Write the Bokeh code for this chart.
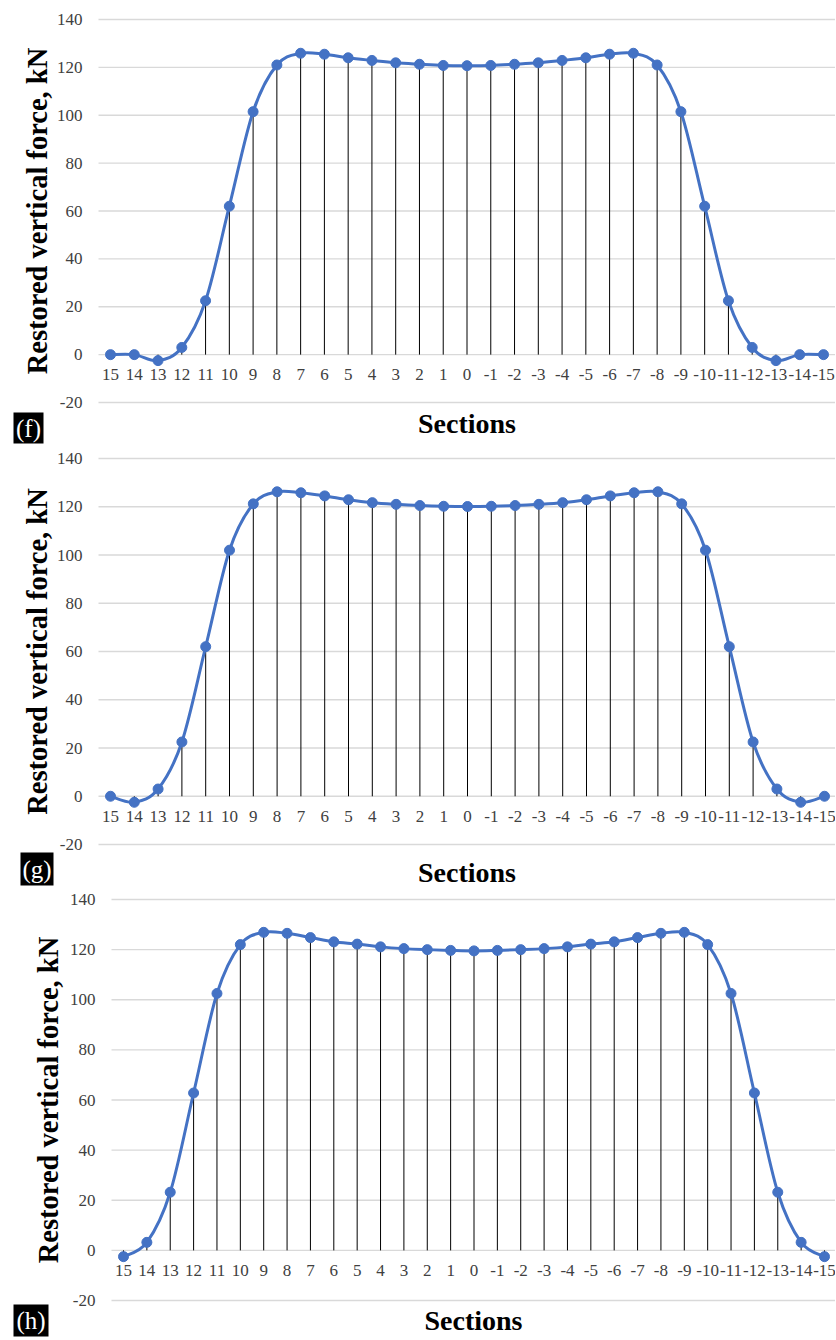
import math
from bokeh.plotting import figure
from bokeh.layouts import column
from bokeh.models import ColumnDataSource
from bokeh.core.properties import value
from bokeh.embed import file_html
from bokeh.resources import INLINE

# ---------------- data ----------------
sections = ["15", "14", "13", "12", "11", "10", "9", "8", "7", "6", "5", "4", "3", "2", "1", "0",
            "-1", "-2", "-3", "-4", "-5", "-6", "-7", "-8", "-9", "-10", "-11", "-12", "-13", "-14", "-15"]

force_f = [0, 0, -2.5, 3, 22.5, 62, 101.5, 121, 125.9, 125.5, 124.0, 122.9, 121.9, 121.3, 120.8, 120.7,
           120.8, 121.3, 121.9, 122.9, 124.0, 125.5, 125.9, 121, 101.5, 62, 22.5, 3, -2.5, 0, 0]

force_g = [0, -2.5, 3, 22.5, 62, 102, 121.2, 126.2, 125.8, 124.5, 122.9, 121.7, 121.0, 120.5, 120.2, 120.1,
           120.2, 120.5, 121.0, 121.7, 122.9, 124.5, 125.8, 126.2, 121.2, 102, 62, 22.5, 3, -2.5, 0]

force_h = [-2.5, 3.2, 23.2, 62.8, 102.5, 122, 126.9, 126.5, 124.8, 123.1, 122.2, 121.1, 120.4, 120.0, 119.7, 119.5,
           119.7, 120.0, 120.4, 121.1, 122.2, 123.1, 124.8, 126.5, 126.9, 122, 102.5, 62.8, 23.2, 3.2, -2.5]

y_ticks = [-20, 0, 20, 40, 60, 80, 100, 120, 140]
y_tick_labels = [str(t) for t in y_ticks]
panel_tags = ["(f)", "(g)", "(h)"]
x_title = "Sections"
y_title = "Restored vertical force, kN"

# ---------------- style ----------------
BLUE = "#4472C4"
GRID = "#d9d9d9"
TICK_TXT = "#404040"
SERIF = "Liberation Serif"
PAGE_W = 835
Y_MIN, Y_MAX = -20, 140


def smooth_segments(xs, ys):
    """Control points for a Catmull-Rom style smoothed line (as Excel draws it)."""
    n = len(xs)
    d = dict(x0=[], y0=[], x1=[], y1=[], cx0=[], cy0=[], cx1=[], cy1=[])
    for i in range(n - 1):
        a = max(i - 1, 0)
        b = min(i + 2, n - 1)
        d["x0"].append(xs[i]); d["y0"].append(ys[i])
        d["x1"].append(xs[i + 1]); d["y1"].append(ys[i + 1])
        d["cx0"].append(xs[i] + (xs[i + 1] - xs[a]) / 6.0)
        d["cy0"].append(ys[i] + (ys[i + 1] - ys[a]) / 6.0)
        d["cx1"].append(xs[i + 1] - (xs[b] - xs[i]) / 6.0)
        d["cy1"].append(ys[i + 1] - (ys[b] - ys[i]) / 6.0)
    return d


def make_panel(values, tag, height, top, frame_h, left, first_px, last_px,
               tick_right_px, ytitle_px, xtitle_gap, tag_box):
    """One figure per panel; its frame fills the canvas and the chart area is
    placed inside it by choosing the data ranges (pixel layout -> data units)."""
    n = len(values)
    idx = list(range(n))
    sp = (last_px - first_px) / (n - 1)          # px per category
    ppu = frame_h / float(Y_MAX - Y_MIN)         # px per kN

    def dx(px):                                   # horizontal pixel -> data x
        return (px - first_px) / sp

    def dy(py):                                   # vertical pixel (from top) -> data y
        return Y_MAX - (py - top) / ppu

    p = figure(width=PAGE_W, height=height, output_backend="svg", toolbar_location=None,
               x_axis_location=None, y_axis_location=None,
               x_range=(dx(0), dx(PAGE_W)), y_range=(dy(height), dy(0)),
               min_border=0)
    p.grid.visible = False
    p.outline_line_color = None
    p.background_fill_color = "white"
    p.border_fill_color = "white"

    x_left, x_right = dx(left), dx(PAGE_W)

    # horizontal gridlines (value axis)
    p.segment(x0=[x_left] * len(y_ticks), y0=y_ticks, x1=[x_right] * len(y_ticks), y1=y_ticks,
              line_color=GRID, line_width=1.3)

    # value-axis tick labels
    p.text(x=[dx(tick_right_px)] * len(y_ticks), y=y_ticks, text=y_tick_labels,
           text_align="right", text_baseline="middle", text_font=value(SERIF),
           text_font_size="17px", text_color=TICK_TXT)

    # value-axis title (rotated)
    p.text(x=[dx(ytitle_px)], y=[(Y_MIN + Y_MAX) / 2.0], text=[y_title], angle=math.pi / 2,
           text_align="center", text_baseline="middle", text_font=value(SERIF),
           text_font_size="28.5px", text_font_style="bold", text_color="black")

    # drop lines
    p.segment(x0=idx, y0=[0] * n, x1=idx, y1=values, line_color="black", line_width=1)

    # smoothed series line and markers
    src = ColumnDataSource(smooth_segments(idx, values))
    p.bezier(x0="x0", y0="y0", x1="x1", y1="y1", cx0="cx0", cy0="cy0", cx1="cx1", cy1="cy1",
             source=src, line_color=BLUE, line_width=3)
    p.scatter(idx, values, size=10, fill_color=BLUE, line_color=BLUE)

    # category labels along the zero line
    p.text(x=idx, y=[-20.0 / ppu] * n, text=sections, text_align="center", text_baseline="middle",
           text_font=value(SERIF), text_font_size="17px", text_color=TICK_TXT)

    # category-axis title
    p.text(x=[(x_left + x_right) / 2.0], y=[Y_MIN - xtitle_gap / ppu], text=[x_title],
           text_align="center", text_baseline="middle", text_font=value(SERIF),
           text_font_size="28px", text_font_style="bold", text_color="black")

    # panel tag: white text on a black box
    bl, bgap, bw, bh = tag_box
    y_top = Y_MIN - bgap / ppu
    y_bot = Y_MIN - (bgap + bh) / ppu
    p.quad(left=[dx(bl)], right=[dx(bl + bw)], top=[y_top], bottom=[y_bot],
           fill_color="black", line_color=None)
    p.text(x=[dx(bl + bw / 2.0)], y=[(y_top + y_bot) / 2.0], text=[tag],
           text_align="center", text_baseline="middle", text_font=value(SERIF),
           text_font_size="25px", text_color="white")
    return p


pf = make_panel(force_f, panel_tags[0], height=448, top=19, frame_h=383, left=98,
                first_px=110, last_px=823, tick_right_px=82, ytitle_px=37,
                xtitle_gap=21, tag_box=(13, 10, 30, 31))
pg = make_panel(force_g, panel_tags[1], height=440, top=10, frame_h=386, left=98,
                first_px=110, last_px=824, tick_right_px=82, ytitle_px=37,
                xtitle_gap=28, tag_box=(20, 8, 33, 33))
ph = make_panel(force_h, panel_tags[2], height=450, top=11, frame_h=401, left=111,
                first_px=123, last_px=824, tick_right_px=95, ytitle_px=48,
                xtitle_gap=20, tag_box=(13, 4, 35, 32))

layout = column(pf, pg, ph, spacing=0)
open("out.html", "w").write(file_html(layout, INLINE))
